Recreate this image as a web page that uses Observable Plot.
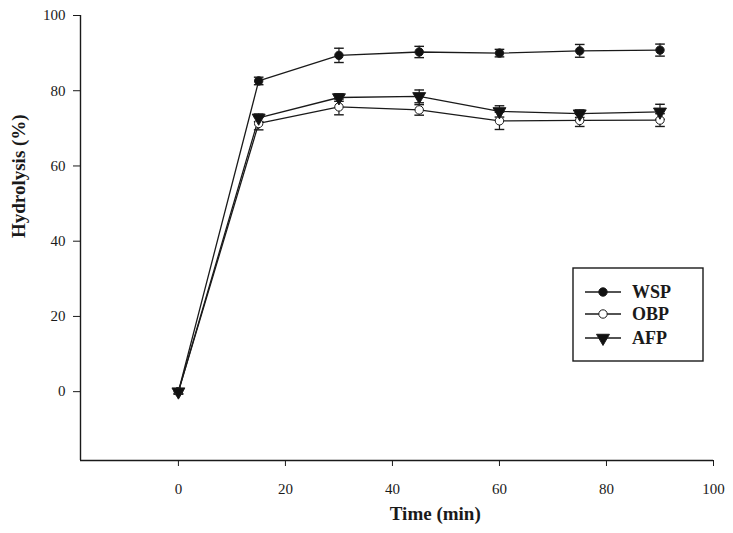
<!DOCTYPE html>
<html>
<head>
<meta charset="utf-8">
<script src="https://cdn.jsdelivr.net/npm/d3@7"></script>
<script src="https://cdn.jsdelivr.net/npm/@observablehq/plot@0.6"></script>
<style>
html,body{margin:0;padding:0;background:#fff;}
#chart{position:relative;width:733px;height:533px;}
</style>
</head>
<body>
<div id="chart"></div>
<script>
const time = [0, 15, 30, 45, 60, 75, 90];
const wsp = [0, 82.6, 89.4, 90.3, 90.0, 90.6, 90.8];
const wspErr = [0.6, 1.0, 1.9, 1.5, 1.0, 1.7, 1.6];
const obp = [0, 71.3, 75.7, 74.9, 72.0, 72.1, 72.2];
const obpErr = [0.6, 1.7, 2.1, 1.4, 2.3, 1.6, 1.7];
const afp = [0, 72.8, 78.2, 78.5, 74.5, 73.9, 74.4];
const afpErr = [0.6, 1.0, 1.0, 1.7, 1.5, 1.0, 2.0];
const seriesNames = ["WSP", "OBP", "AFP"];
const xTicks = [0, 20, 40, 60, 80, 100];
const yTicks = [0, 20, 40, 60, 80, 100];
const xDomain = [-18.3, 100];
const yDomain = [-18.3, 100];

const symbols = {WSP: {symbol: "circle", fill: "#111", rotate: 0},
                 OBP: {symbol: "circle", fill: "#fff", rotate: 0},
                 AFP: {symbol: "triangle", fill: "#111", rotate: 180}};

const vals = {WSP: wsp, OBP: obp, AFP: afp};
const errs = {WSP: wspErr, OBP: obpErr, AFP: afpErr};
const data = [];
for (const s of seriesNames) {
  time.forEach((t, i) => data.push({series: s, t, v: vals[s][i], e: errs[s][i]}));
}
const cap = 0.9;
const ink = "#1a1a1a";

const marks = [
  Plot.ruleX([xDomain[0]], {y1: yDomain[0], y2: yDomain[1], stroke: ink, strokeWidth: 1.4}),
  Plot.ruleY([yDomain[0]], {x1: xDomain[0], x2: xDomain[1], stroke: ink, strokeWidth: 1.4}),
  Plot.axisX({ticks: xTicks, tickSize: 6, tickPadding: 17, fontSize: 15, fontFamily: "Liberation Serif", stroke: ink, label: null}),
  Plot.axisY({ticks: yTicks, tickSize: 7, tickPadding: 8, fontSize: 15, fontFamily: "Liberation Serif", stroke: ink, label: null}),
  Plot.text(["Time (min)"], {x: 48, frameAnchor: "bottom", dy: 59, fontSize: 19, fontWeight: "bold", fontFamily: "Liberation Serif", fill: ink}),
  Plot.text(["Hydrolysis (%)"], {frameAnchor: "left", dx: -62, rotate: -90, fontSize: 19, fontWeight: "bold", fontFamily: "Liberation Serif", fill: ink}),
];
for (const s of seriesNames) {
  const d = data.filter(r => r.series === s);
  marks.push(Plot.line(d, {x: "t", y: "v", stroke: ink, strokeWidth: 1.3}));
  marks.push(Plot.ruleX(d, {x: "t", y1: r => r.v - r.e, y2: r => r.v + r.e, stroke: ink, strokeWidth: 1.2}));
  marks.push(Plot.link(d, {x1: r => r.t - cap, x2: r => r.t + cap, y1: r => r.v + r.e, y2: r => r.v + r.e, stroke: ink, strokeWidth: 1.4}));
  marks.push(Plot.link(d, {x1: r => r.t - cap, x2: r => r.t + cap, y1: r => r.v - r.e, y2: r => r.v - r.e, stroke: ink, strokeWidth: 1.4}));
}
for (const s of seriesNames) {
  const d = data.filter(r => r.series === s);
  const sy = symbols[s];
  marks.push(Plot.dot(d, {x: "t", y: "v", symbol: sy.symbol, r: sy.symbol === "triangle" ? 4.8 : 4.2, fill: sy.fill, stroke: ink, strokeWidth: 1, rotate: sy.rotate}));
}

const plot = Plot.plot({
  width: 733, height: 533,
  marginLeft: 80, marginRight: 20, marginTop: 15, marginBottom: 73,
  x: {domain: xDomain},
  y: {domain: yDomain},
  style: {background: "#fff", fontFamily: "Liberation Serif", color: ink},
  marks
});
document.getElementById("chart").appendChild(plot);

// legend
const svg = d3.select(plot);
const lg = svg.append("g").attr("text-anchor", "start");
lg.append("rect").attr("x", 573).attr("y", 268).attr("width", 130).attr("height", 93)
  .attr("fill", "#fff").attr("stroke", ink).attr("stroke-width", 1.4);
const rowsY = [292, 314, 338];
const symGen = {circle: d3.symbolCircle, triangle: d3.symbolTriangle};
seriesNames.forEach((s, i) => {
  const y = rowsY[i];
  const sy = symbols[s];
  lg.append("line").attr("x1", 585).attr("x2", 621).attr("y1", y).attr("y2", y).attr("stroke", ink).attr("stroke-width", 1.3);
  const r = sy.symbol === "triangle" ? 4.8 : 4.2;
  lg.append("path").attr("d", d3.symbol(symGen[sy.symbol], Math.PI * r * r)())
    .attr("transform", `translate(603,${y}) rotate(${sy.rotate})`)
    .attr("fill", sy.fill).attr("stroke", ink).attr("stroke-width", 1);
  lg.append("text").attr("x", 632).attr("y", y).attr("dy", "0.35em")
    .attr("text-anchor", "start")
    .attr("font-family", "Liberation Serif").attr("font-weight", "bold").attr("font-size", 18)
    .attr("fill", ink).text(s);
});
</script>
</body>
</html>
